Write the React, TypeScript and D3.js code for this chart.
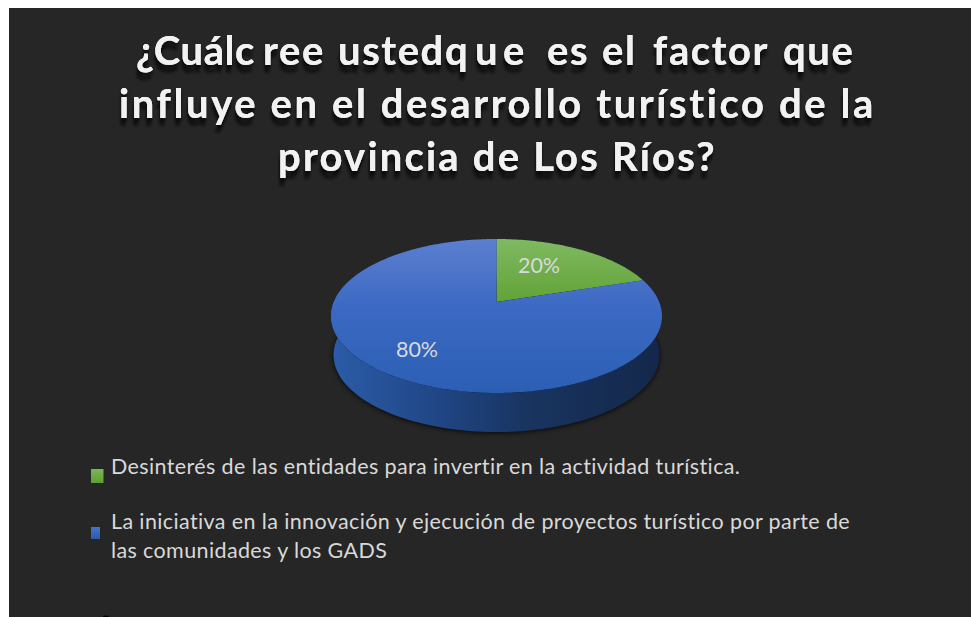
import React from "react";
import * as d3 from "d3";

const W = 971, H = 617;
const categories = [
  "Desinterés de las entidades para invertir en la actividad turística.",
  "La iniciativa en la innovación y ejecución de proyectos turístico por parte de las comunidades y los GADS",
];
const values = [20, 80];
const labels = ["20%", "80%"];
const titleLine1 = ["¿Cuálc", "ree", "ustedq", "u", "e", "es", "el", "factor", "que"];
const titleLines = ["influye en el desarrollo turístico de la", "provincia de Los Ríos?"];
const titleLine1X = [136, 263, 338, 475, 503, 547, 602, 653, 783];
const titleLine1Spacing = [0.6, 1.6, 1.6, 1.6, 1.6, 1.6, 1.6, 1.6, 1.6];
const titleSpacing = [2.6, 2.2];

const cx = 496.5, apexY = 302, A = 162.7, P = 74.45, C = -0.1818, depth = 39;
const project = (theta: number): [number, number] => {
  const u = Math.sin(theta), v = -Math.cos(theta), w = 1 + C * v;
  return [cx + (A * u) / w, apexY + (P * v) / w];
};
const pieGen = d3.pie<number>().sort(null);
const arcs = pieGen(values);
const line = d3.line();
const slicePath = (a: number, b: number) => {
  const n = Math.max(2, Math.ceil((b - a) / 0.02));
  const pts = d3.range(n + 1).map((i) => project(a + ((b - a) * i) / n));
  return line([[cx, apexY], ...pts])! + "Z";
};
const fullAngles = d3.range(0, 361, 2).map((d) => (d * Math.PI) / 180);
const rim = fullAngles.map(project);
const rimBottom = rim.map(([x, y]): [number, number] => [cx + (x - cx) * 0.985, y + depth]);
const sidePath = line([...rim, ...rimBottom.slice().reverse()])! + "Z";
const bottomPath = line(rimBottom)! + "Z";
const colors = ["url(#green)", "url(#blue)"];
const swatchFill = ["url(#lgGreen)", "url(#lgBlue)"];
const legendLines = [[categories[0]], ["La iniciativa en la innovación y ejecución de proyectos turístico por parte de", "las comunidades y los GADS"]];
const labelPos: [number, number][] = [[539, 272.5], [417, 356.5]];

export default function App() {
  return (
    <svg width={W} height={H} style={{ position: "absolute", left: 0, top: 0, background: "#fff" }}>
      <defs>
        <linearGradient id="blue" gradientUnits="userSpaceOnUse" x1="0" x2="0" y1="239" y2="393">
          <stop offset="0" stopColor="#5c7fcf" />
          <stop offset="0.45" stopColor="#3b69c3" />
          <stop offset="1" stopColor="#2b5fb4" />
        </linearGradient>
        <linearGradient id="green" gradientUnits="userSpaceOnUse" x1="0" x2="0" y1="239" y2="302">
          <stop offset="0" stopColor="#80b961" />
          <stop offset="1" stopColor="#62a337" />
        </linearGradient>
        <linearGradient id="side" gradientUnits="userSpaceOnUse" x1="331" x2="662" y1="0" y2="0">
          <stop offset="0" stopColor="#2b5ca8" />
          <stop offset="0.35" stopColor="#1f4482" />
          <stop offset="0.6" stopColor="#18345f" />
          <stop offset="1" stopColor="#14274a" />
        </linearGradient>
        <linearGradient id="lgGreen" x1="0" x2="0" y1="0" y2="1">
          <stop offset="0" stopColor="#7ab852" />
          <stop offset="1" stopColor="#5f9e35" />
        </linearGradient>
        <linearGradient id="lgBlue" x1="0" x2="0" y1="0" y2="1">
          <stop offset="0" stopColor="#4573cc" />
          <stop offset="1" stopColor="#2c5cae" />
        </linearGradient>
        <filter id="blur" x="-10%" y="-10%" width="120%" height="120%">
          <feGaussianBlur stdDeviation="2.5" />
        </filter>
        <filter id="tshadow" x="-5%" y="-20%" width="110%" height="160%">
          <feDropShadow dx={-1} dy={8} stdDeviation={1.6} floodColor="#000" floodOpacity={0.55} result="far" />
          <feDropShadow in="SourceGraphic" dx={0} dy={3} stdDeviation={1.8} floodColor="#000" floodOpacity={0.6} result="near" />
          <feMerge>
            <feMergeNode in="far" />
            <feMergeNode in="near" />
          </feMerge>
        </filter>
      </defs>
      <rect x={9} y={8} width={W - 9} height={H - 8} fill="#262626" />
      <ellipse cx={106} cy={616.5} rx={3} ry={1} fill="#000" />
      <g fontFamily="Lato, sans-serif" fontWeight={700} fontSize={40} fill="#f2f2f2" style={{ fontVariantLigatures: "none" }} filter="url(#tshadow)">
        <text y={65}>
          {titleLine1.map((w, i) => (
            <tspan key={i} x={titleLine1X[i]} letterSpacing={titleLine1Spacing[i]}>{w}</tspan>
          ))}
        </text>
        {titleLines.map((t, i) => (
          <text key={i} x={497.5} y={118 + i * 53} textAnchor="middle" letterSpacing={titleSpacing[i]}>{t}</text>
        ))}
      </g>
      <path d={bottomPath} fill="#000" opacity={0.8} filter="url(#blur)" transform="translate(0,1)" />
      <path d={sidePath} fill="url(#side)" />
      {arcs.map((a, i) => (
        <path key={i} d={slicePath(a.startAngle, a.endAngle)} fill={colors[i]} />
      ))}
      <g fontFamily="Lato, sans-serif" fontSize={21.5} fill="#d9d9d9" textAnchor="middle">
        {labels.map((l, i) => (
          <text key={i} x={labelPos[i][0]} y={labelPos[i][1]}>{l}</text>
        ))}
      </g>
      <rect x={91} y={469} width={12.5} height={14} fill={swatchFill[0]} />
      <rect x={91} y={527} width={9} height={12} fill={swatchFill[1]} />
      <g fontFamily="Lato, sans-serif" fontSize={21.5} fill="#d9d9d9" letterSpacing={0.38} style={{ fontVariantLigatures: "none" }}>
        <text x={111} y={474}>{legendLines[0][0]}</text>
        <text x={111} y={529}>{legendLines[1][0]}</text>
        <text x={111} y={558}>{legendLines[1][1]}</text>
      </g>
    </svg>
  );
}
